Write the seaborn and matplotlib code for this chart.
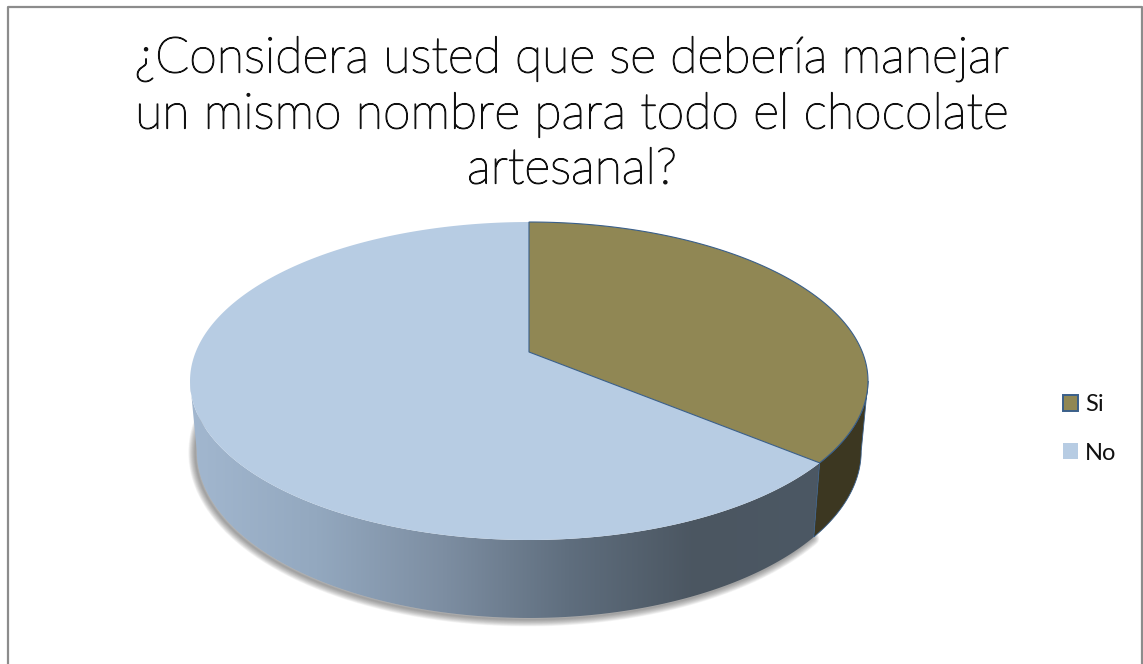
import numpy as np
import matplotlib
matplotlib.use("Agg")
import matplotlib.pyplot as plt
from matplotlib.patches import Polygon, Patch
import matplotlib.patheffects as pe
import seaborn as sns

# Survey answers (percent of respondents)
categories = ["Si", "No"]
shares = [36, 64]
title_lines = [
    "¿Considera usted que se debería manejar",
    "un mismo nombre para todo el chocolate",
    "artesanal?",
]

top_colors = ["#908754", "#B7CCE3"]
si_side_color = "#3C3721"
edge_blue = "#3A5F8A"

sns.set_theme(style="white")
plt.rcParams["font.family"] = ["Lato", "DejaVu Sans"]

W, H = 1143, 664
fig = plt.figure(figsize=(W / 100, H / 100), dpi=100, facecolor="white")
ax = fig.add_axes([0, 0, 1, 1])
ax.set_axis_off()

# Perspective of the pie's disc on the page, in pixel-like axis units
CX, CY = 529.0, 352.0
PX, PY, TILT = 333.3, 153.7, 0.1824
BOTTOM_CY, BOTTOM_SX, BOTTOM_SY = 420.6, 0.98, 1.05


def rim(deg, bottom=False):
    """Rim points at angles measured clockwise from twelve o'clock."""
    t = np.radians(np.asarray(deg, dtype=float))
    depth = 1 + TILT * np.cos(t)
    u = PX * np.sin(t) / depth
    v = PY * np.cos(t) / depth
    if bottom:
        return np.column_stack([CX + BOTTOM_SX * u, BOTTOM_CY - BOTTOM_SY * v])
    return np.column_stack([CX + u, CY - v])


def arc(a, b, bottom=False):
    return rim(np.linspace(a, b, 240), bottom)


# Slice limits follow from the shares
split = 360 * shares[0] / sum(shares)
right_limb = np.degrees(np.arccos(-TILT))
left_limb = 360 - right_limb


def side_outline(a, b):
    return np.vstack([arc(a, b), arc(b, a, bottom=True)])


# Soft shadow below the front wall
shadow_arc = arc(split, left_limb + 14, bottom=True) + np.array([-1.5, 1.5])
for lw in np.arange(14, 0, -1.0):
    ax.plot(shadow_arc[:, 0], shadow_arc[:, 1], color="#404040", lw=lw * 0.72,
            alpha=0.045, solid_capstyle="round", zorder=1)

# Front wall of the larger slice, shaded left to right
wall_ramp = sns.blend_palette(
    ["#A2B7CF", "#93A8BF", "#7D8EA2", "#5F6E7E", "#4B5661", "#4C5864"], n_colors=256
)
wall = ax.imshow(np.array(wall_ramp)[None, :, :], extent=(190, 822, 640, 350),
                 aspect="auto", zorder=2, interpolation="bilinear")
no_wall = Polygon(side_outline(split, left_limb), closed=True, transform=ax.transData,
                  fc="none", ec="none")
ax.add_patch(no_wall)
wall.set_clip_path(no_wall)

# Wall of the smaller slice
ax.add_patch(Polygon(side_outline(right_limb, split), closed=True, fc=si_side_color,
                     ec=edge_blue, lw=0.6, zorder=3))

# Top faces
centre = np.array([[CX, CY]])
ax.add_patch(Polygon(np.vstack([centre, arc(split, 360)]), closed=True,
                     fc=top_colors[1], ec="none", zorder=4))
ax.add_patch(Polygon(np.vstack([centre, arc(0, split)]), closed=True,
                     fc=top_colors[0], ec=edge_blue, lw=0.8, zorder=5))

# Chart frame: it runs off the lower edge of the page
frame_x = [8, 8, 1142, 1142]
frame_y = [H + 5, 7, 7, H + 5]
ax.plot(frame_x, frame_y, color="#8C8C8C", lw=1.6, zorder=6)

thicken = [pe.withStroke(linewidth=0.9, foreground="#111111")]
for line, baseline in zip(title_lines, [72.5, 128.5, 183.5]):
    ax.text(572, baseline, line, ha="center", va="baseline", fontsize=36,
            fontweight="light", color="#111111", path_effects=thicken, zorder=7)

handles = [
    Patch(fc=top_colors[0], ec=edge_blue, lw=1.4, label=categories[0]),
    Patch(fc=top_colors[1], ec="none", label=categories[1]),
]
ax.legend(handles=handles, loc="center left", bbox_to_anchor=(1063 / W, 1 - 429 / H),
          bbox_transform=fig.transFigure, frameon=False, fontsize=17,
          handlelength=0.64, handleheight=0.64, handletextpad=0.3,
          labelspacing=1.15, borderpad=0, borderaxespad=0, labelcolor="#111111")

ax.set_xlim(0, W)
ax.set_ylim(H, 0)

fig.savefig("out.png", dpi=100, facecolor="white")
